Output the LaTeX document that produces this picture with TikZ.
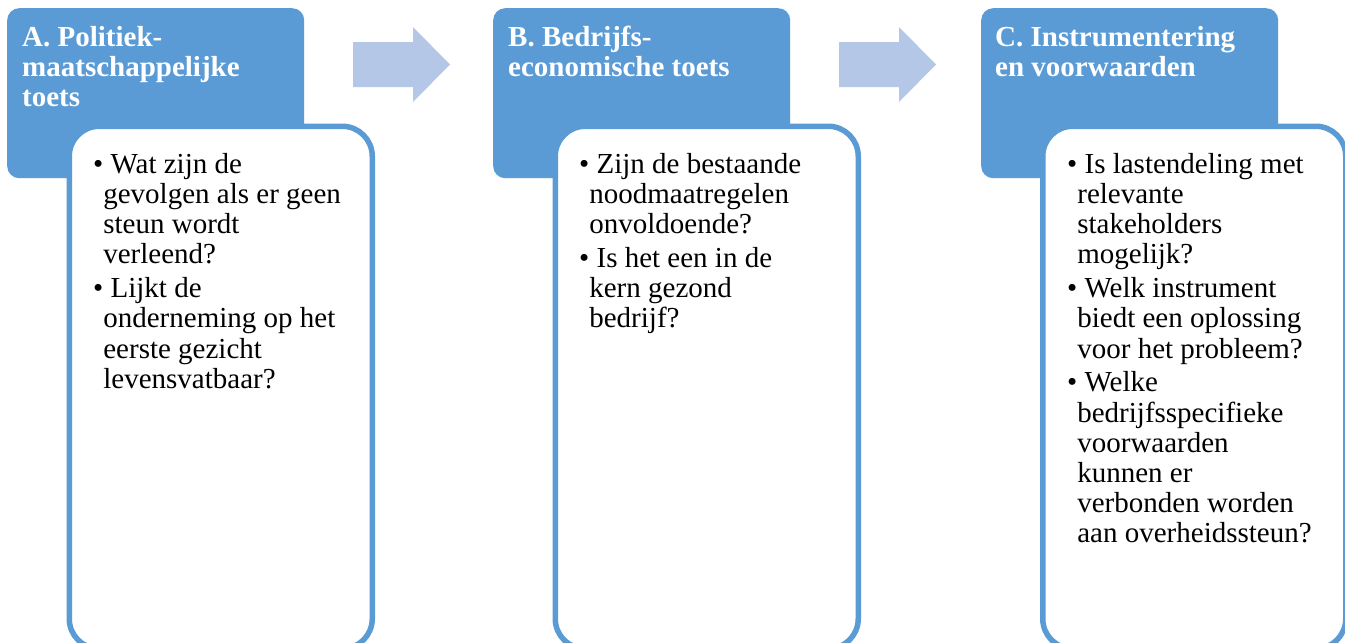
\documentclass[tikz,border=0pt]{standalone}
\usepackage{fontspec}
\setmainfont{Liberation Serif}
\definecolor{hdrblue}{HTML}{5B9BD5}
\definecolor{arrblue}{HTML}{B4C7E7}
\newcommand\bodyfont{\fontsize{29}{30.2}\selectfont}
\newcommand\hdrfont{\fontsize{29}{30.2}\selectfont\bfseries}
% #1 name, #2 x of bullet, #3 baseline of first line, #4 first line, #5 continuation lines
\newcommand\bulletitem[5]{%
  \node[bodytxt] (#1-0) at (#2,#3) {\textbullet{} #4};
  \foreach \t [count=\i] in {#5} {
    \node[bodytxt] (#1-\i) at (#2+10.15,#3+30.2*\i) {\t};
  }%
}
\begin{document}
\begin{tikzpicture}[x=1pt,y=-1pt,
  hdr/.style={draw=none,fill=hdrblue,rounded corners=12pt,minimum width=297pt,minimum height=170pt,inner sep=0pt,anchor=north west},
  card/.style={draw=hdrblue,line width=5.5pt,fill=white,rounded corners=30pt,minimum width=303pt,minimum height=522.5pt,inner sep=0pt,anchor=north west},
  bodytxt/.style={anchor=base west,inner sep=0pt,font=\bodyfont,text=black},
  hdrtxt/.style={anchor=base west,inner sep=0pt,font=\hdrfont,text=white},
  blockarrow/.style={fill=arrblue,draw=none}]
\useasboundingbox (0,0) rectangle (1345,643);
\clip (0,0) rectangle (1345,643);
\fill[white] (0,0) rectangle (1345,643);

% panel A
\node[hdr] (hA) at (7,8) {};
\node[card] (cA) at (66.5,123.5) {};
\node[hdrtxt] (tA1) at (22,46) {A. Politiek-};
\node[hdrtxt] (tA2) at (22,76.2) {maatschappelijke};
\node[hdrtxt] (tA3) at (22,106.4) {toets};
\bulletitem{a1}{93}{173}{Wat zijn de}{gevolgen als er geen,steun wordt,verleend?}
\bulletitem{a2}{93}{297.6}{Lijkt de}{onderneming op het,eerste gezicht,levensvatbaar?}

% panel B
\node[hdr] (hB) at (493,8) {};
\node[card] (cB) at (552.5,123.5) {};
\node[hdrtxt] (tB1) at (508,46) {B. Bedrijfs-};
\node[hdrtxt] (tB2) at (508,76.2) {economische toets};
\bulletitem{b1}{579}{173}{Zijn de bestaande}{noodmaatregelen,onvoldoende?}
\bulletitem{b2}{579}{267.4}{Is het een in de}{kern gezond,bedrijf?}

% panel C
\node[hdr] (hC) at (981,8) {};
\node[card] (cC) at (1040,123.5) {};
\node[hdrtxt] (tC1) at (995,46) {C. Instrumentering};
\node[hdrtxt] (tC2) at (995,76.2) {en voorwaarden};
\bulletitem{c1}{1067}{173}{Is lastendeling met}{relevante,stakeholders,mogelijk?}
\bulletitem{c2}{1067}{297.6}{Welk instrument}{biedt een oplossing,voor het probleem?}
\bulletitem{c3}{1067}{391.8}{Welke}{bedrijfsspecifieke,voorwaarden,kunnen er,verbonden worden,aan overheidssteun?}

% block arrows
\fill[blockarrow] (353,42) -- (413,42) -- (413,27) -- (450,64.5) -- (413,102) -- (413,87) -- (353,87) -- cycle;
\fill[blockarrow] (839,42) -- (899,42) -- (899,27) -- (936,64.5) -- (899,102) -- (899,87) -- (839,87) -- cycle;
\end{tikzpicture}
\end{document}
